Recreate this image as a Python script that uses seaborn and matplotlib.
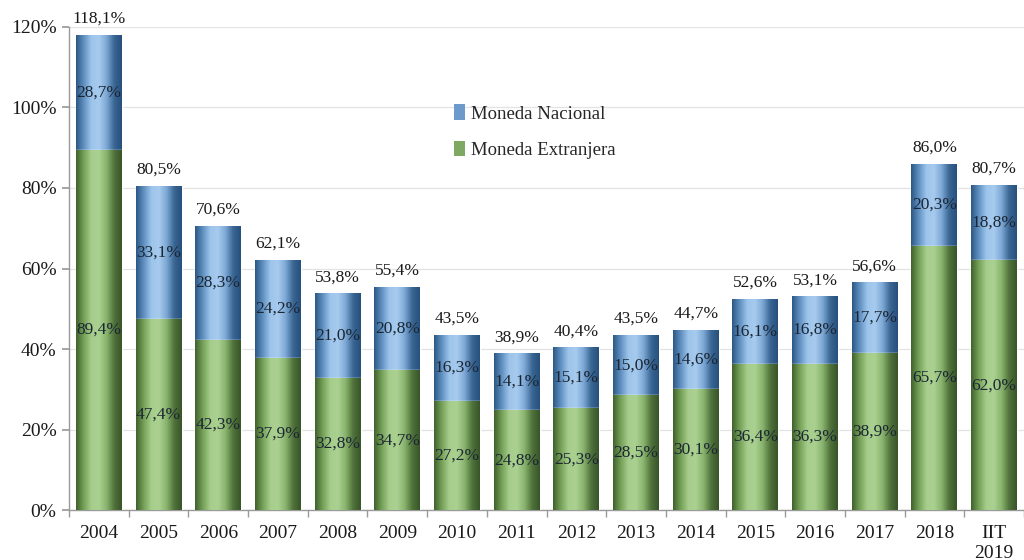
import numpy as np
import pandas as pd
import matplotlib
matplotlib.use("Agg")
import matplotlib.pyplot as plt
from matplotlib.colors import LinearSegmentedColormap
from matplotlib.patches import Patch
from matplotlib.ticker import FixedLocator
import seaborn as sns

categories = ["2004", "2005", "2006", "2007", "2008", "2009", "2010", "2011",
              "2012", "2013", "2014", "2015", "2016", "2017", "2018", "IIT\n2019"]
moneda_extranjera = [89.4, 47.4, 42.3, 37.9, 32.8, 34.7, 27.2, 24.8,
                     25.3, 28.5, 30.1, 36.4, 36.3, 38.9, 65.7, 62.0]
moneda_nacional = [28.7, 33.1, 28.3, 24.2, 21.0, 20.8, 16.3, 14.1,
                   15.1, 15.0, 14.6, 16.1, 16.8, 17.7, 20.3, 18.8]
totales = [118.1, 80.5, 70.6, 62.1, 53.8, 55.4, 43.5, 38.9,
           40.4, 43.5, 44.7, 52.6, 53.1, 56.6, 86.0, 80.7]

def fmt(v):
    return f"{v:.1f}".replace(".", ",") + "%"

df = pd.DataFrame({"cat": categories, "me": moneda_extranjera,
                   "mn": moneda_nacional, "tot": totales})
df["top"] = df["me"] + df["mn"]

sns.set_theme(style="white")
plt.rcParams["font.family"] = ["Liberation Serif", "DejaVu Serif"]

fig = plt.figure(figsize=(10.24, 5.6), dpi=100)
ax = fig.add_axes([0.0674, 0.089, 0.9326, 0.863])

blue_c = "#6E9ACB"
green_c = "#7FA862"
sns.barplot(data=df, x="cat", y="top", color=blue_c, width=0.77,
            saturation=1, ax=ax, zorder=2)
n_blue = len(ax.patches)
sns.barplot(data=df, x="cat", y="me", color=green_c, width=0.77,
            saturation=1, ax=ax, zorder=3)

blue_cmap = LinearSegmentedColormap.from_list(
    "b", ["#2C5784", "#5F8FC0", "#9DC4EA", "#A7CBEE", "#7DA8D6", "#3A6694", "#26507C"])
green_cmap = LinearSegmentedColormap.from_list(
    "g", ["#405F2D", "#74A057", "#A6CD8B", "#ABD190", "#88B36D", "#50723A", "#38542A"])
grad = np.linspace(0, 1, 256).reshape(1, -1)

for i, p in enumerate(ax.patches):
    x0, y0 = p.get_x(), p.get_y()
    w, h = p.get_width(), p.get_height()
    cmap = blue_cmap if i < n_blue else green_cmap
    z = 2.5 if i < n_blue else 3.5
    im = ax.imshow(grad, cmap=cmap, aspect="auto",
                   extent=(x0, x0 + w, y0, y0 + h), zorder=z,
                   interpolation="bicubic")
    im.set_clip_path(p)

ax.set_xlim(-0.5, len(categories) - 0.5)
ax.set_ylim(0, 120)
ax.set_yticks(np.arange(0, 121, 20))
ax.set_yticklabels([f"{v}%" for v in range(0, 121, 20)])
ax.set_xlabel("")
ax.set_ylabel("")

txt_c = "#1A1A1A"
in_c = "#1B2633"
for i in range(len(categories)):
    me = moneda_extranjera[i]
    mn = moneda_nacional[i]
    ax.text(i, me / 2, fmt(me), ha="center", va="center", fontsize=12.5,
            color=in_c, zorder=6)
    ax.text(i, me + mn / 2, fmt(mn), ha="center", va="center", fontsize=12.5,
            color=in_c, zorder=6)
    ax.text(i, df["top"][i] + 2.0, fmt(totales[i]), ha="center", va="bottom",
            fontsize=12.5, color=txt_c, zorder=6)

ax.grid(axis="y", color="#E3E3E3", linewidth=0.9, zorder=0)
ax.set_axisbelow(True)
for s in ["top", "right"]:
    ax.spines[s].set_visible(False)
for s in ["left", "bottom"]:
    ax.spines[s].set_color("#9A9A9A")
    ax.spines[s].set_linewidth(1.0)

ax.tick_params(axis="y", which="major", left=True, length=5, color="#9A9A9A",
               labelsize=14, labelcolor=txt_c, pad=4)
ax.tick_params(axis="x", which="major", bottom=False, labelsize=14,
               labelcolor=txt_c, pad=5)
ax.xaxis.set_minor_locator(FixedLocator(np.arange(-0.5, len(categories), 1.0)))
ax.tick_params(axis="x", which="minor", bottom=True, length=5, color="#9A9A9A")

handles = [Patch(facecolor="#6E9ACB", edgecolor="none", label="Moneda Nacional"),
           Patch(facecolor="#7FA862", edgecolor="none", label="Moneda Extranjera")]
ax.legend(handles=handles, loc="upper left", bbox_to_anchor=(0.395, 0.855),
          frameon=False, fontsize=13.5, handlelength=0.6, handleheight=0.9,
          handletextpad=0.3, labelspacing=0.95, borderaxespad=0)

fig.savefig("out.png", dpi=100)
